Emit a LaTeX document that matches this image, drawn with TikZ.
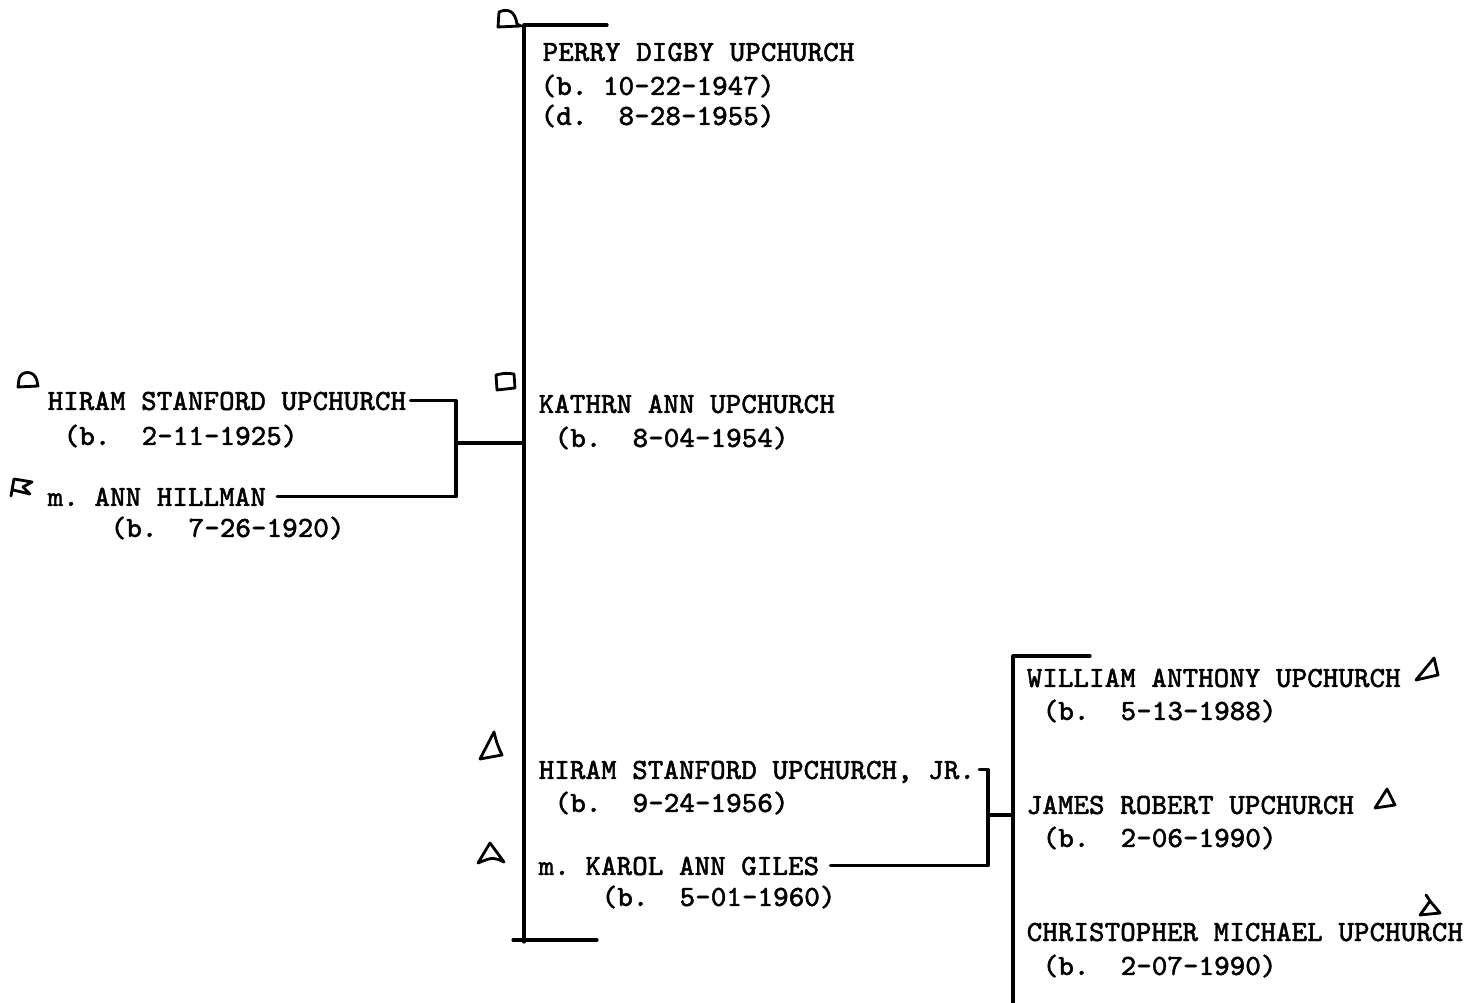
\documentclass[tikz,border=0pt]{standalone}
\usepackage{fontspec}
\newfontfamily\hstype[FakeBold=1.4]{Latin Modern Mono}
\begin{document}
\begin{tikzpicture}[line cap=round,line join=round,
  rule/.style={line width=0.9pt},
  handmark/.style={line width=0.8pt},
  person/.style={anchor=base west,inner sep=0pt,text height=5.2pt,text depth=0pt,
    font=\hstype\fontsize{8.35}{9}\selectfont}]
  \useasboundingbox (0,0) rectangle (14.64,-10.03);
  % parents
  \node[person] (hiram) at (0.47,-4.10) {HIRAM STANFORD UPCHURCH};
  \node[person] (hiramb) at (0.63,-4.45) {(b.~~2-11-1925)};
  \node[person] (ann) at (0.47,-5.06) {m.~ANN HILLMAN};
  \node[person] (annb) at (1.10,-5.37) {(b.~~7-26-1920)};
  % children
  \node[person] (perry) at (5.42,-0.61) {PERRY DIGBY UPCHURCH};
  \node[person] (perryb) at (5.40,-0.95) {(b.~10-22-1947)};
  \node[person] (perryd) at (5.40,-1.25) {(d.~~8-28-1955)};
  \node[person] (kathrn) at (5.38,-4.13) {KATHRN ANN UPCHURCH};
  \node[person] (kathrnb) at (5.54,-4.47) {(b.~~8-04-1954)};
  \node[person] (hsjr) at (5.38,-7.79) {HIRAM STANFORD UPCHURCH, JR.};
  \node[person] (hsjrb) at (5.54,-8.12) {(b.~~9-24-1956)};
  \node[person] (karol) at (5.38,-8.75) {m.~KAROL ANN GILES};
  \node[person] (karolb) at (6.01,-9.06) {(b.~~5-01-1960)};
  % grandchildren
  \node[person] (william) at (10.26,-6.87) {WILLIAM ANTHONY UPCHURCH};
  \node[person] (williamb) at (10.42,-7.20) {(b.~~5-13-1988)};
  \node[person] (james) at (10.26,-8.14) {JAMES ROBERT UPCHURCH};
  \node[person] (jamesb) at (10.42,-8.47) {(b.~~2-06-1990)};
  \node[person] (chris) at (10.26,-9.41) {CHRISTOPHER MICHAEL UPCHURCH};
  \node[person] (chrisb) at (10.42,-9.75) {(b.~~2-07-1990)};
  % brackets
  \coordinate (sibTop) at (5.24,-0.25);
  \coordinate (sibBot) at (5.24,-9.42);
  \coordinate (parJoin) at (4.56,-4.43);
  \coordinate (jrJoin) at (9.88,-8.15);
  \coordinate (kidTop) at (10.13,-6.56);
  \coordinate (kidBot) at (10.13,-10.03);
  \draw[rule] (6.07,-0.25) -- (sibTop) -- (sibBot);
  \draw[rule] (5.13,-9.40) -- (5.97,-9.40);
  \draw[rule,shorten <=1pt] (hiram.east) -| (parJoin);
  \draw[rule,shorten <=3pt] (ann.east) -| (parJoin);
  \draw[rule] (parJoin) -- (parJoin -| sibTop);
  \draw[rule,shorten <=1pt] (hsjr.east) -| (jrJoin);
  \draw[rule,shorten <=3pt] (karol.east) -| (jrJoin);
  \draw[rule] (jrJoin) -- (jrJoin -| kidTop);
  \draw[rule] (10.90,-6.56) -- (kidTop) -- (kidBot);
  % hand marks
  \draw[handmark,shift={(4.98,-0.27)}] (0,0) -- (0.01,0.15) .. controls (0.10,0.19) and (0.17,0.16) .. (0.19,0.03) -- (0.23,0.01) -- cycle;
  \draw[handmark,shift={(0.18,-3.87)}] (0,0) -- (0.01,0.08) .. controls (0.03,0.17) and (0.17,0.17) .. (0.19,0.06) -- (0.20,0.01) -- cycle;
  \draw[handmark,shift={(0.11,-4.96)}] (0,0) -- (0.03,0.17) -- (0.21,0.14) -- (0.12,0.09) -- (0.19,0.02) -- (0.02,0.06);
  \draw[handmark,shift={(4.97,-3.90)}] (0,0) -- (-0.01,0.15) .. controls (0.08,0.17) .. (0.17,0.16) -- (0.18,0.02) -- cycle;
  \draw[handmark,shift={(4.80,-7.59)}] (0,0) -- (0.14,0.27) .. controls (0.17,0.15) .. (0.22,0.04) -- cycle;
  \draw[handmark,shift={(4.78,-8.63)}] (0,0) -- (0.12,0.20) -- (0.26,0.01) .. controls (0.15,0.06) .. (0,0);
  \draw[handmark,shift={(14.16,-6.80)}] (0,0) -- (0.22,0.05) -- (0.18,0.22) -- cycle;
  \draw[handmark,shift={(13.75,-8.08)}] (0,0) -- (0.20,0.03) -- (0.12,0.19) -- cycle;
  \draw[handmark,shift={(14.20,-9.15)}] (0,0) -- (0.20,0.02) -- (0.10,0.14) -- cycle (0.10,0.14) -- (0.06,0.20);
\end{tikzpicture}
\end{document}
